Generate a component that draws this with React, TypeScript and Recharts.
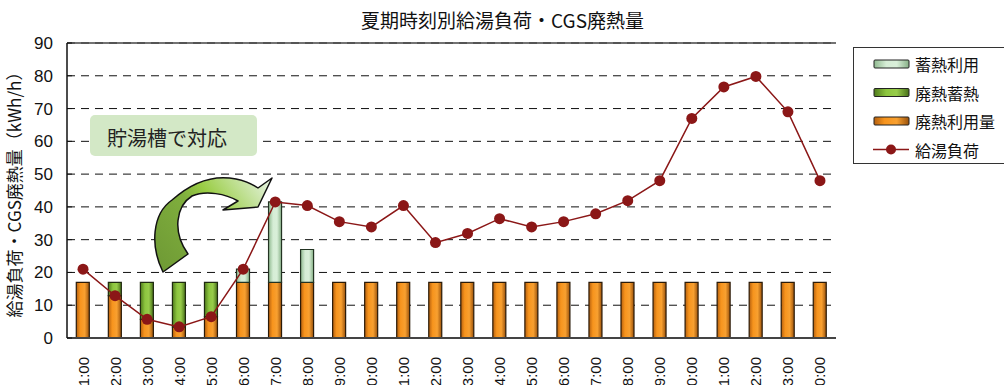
import {
  ComposedChart, Bar, Line, XAxis, YAxis, CartesianGrid, ReferenceLine, Legend,
} from "recharts";

const HOURS = [
  "1:00", "2:00", "3:00", "4:00", "5:00", "6:00", "7:00", "8:00", "9:00", "10:00", "11:00", "12:00",
  "13:00", "14:00", "15:00", "16:00", "17:00", "18:00", "19:00", "20:00", "21:00", "22:00", "23:00", "0:00",
];
// 給湯負荷 (kWh/h)
const HOT_WATER_LOAD = [
  21, 12.9, 5.7, 3.4, 6.5, 21, 41.5, 40.4, 35.5, 33.9, 40.4, 29.1,
  31.9, 36.4, 33.9, 35.5, 37.9, 41.9, 48, 67, 76.6, 79.8, 69, 48,
];
// 廃熱利用量
const WASTE_HEAT_USE = [
  17, 12.9, 5.7, 3.4, 6.5, 17, 17, 17, 17, 17, 17, 17,
  17, 17, 17, 17, 17, 17, 17, 17, 17, 17, 17, 17,
];
// 廃熱蓄熱
const WASTE_HEAT_STORED = [
  0, 4.1, 11.3, 13.6, 10.5, 0, 0, 0, 0, 0, 0, 0,
  0, 0, 0, 0, 0, 0, 0, 0, 0, 0, 0, 0,
];
// 蓄熱利用
const STORED_HEAT_USE = [
  0, 0, 0, 0, 0, 4, 24.5, 10, 0, 0, 0, 0,
  0, 0, 0, 0, 0, 0, 0, 0, 0, 0, 0, 0,
];
const Y_TICKS = [0, 10, 20, 30, 40, 50, 60, 70, 80, 90];
const EDGE_TICKS = Array.from({ length: 23 }, (_, i) => i + 1);

const data = HOURS.map((h, i) => ({
  hour: h,
  load: HOT_WATER_LOAD[i],
  use: WASTE_HEAT_USE[i],
  stored: WASTE_HEAT_STORED[i],
  storedUse: STORED_HEAT_USE[i],
}));

const FONT = `"Liberation Sans", Arial, "Noto Sans CJK JP", sans-serif`;
const JP = `"Noto Sans CJK JP", "Liberation Sans", sans-serif`;
const LINE_COLOR = "#8b1717";

const LEGEND_ITEMS = [
  { label: "蓄熱利用", fill: "url(#gLight)" },
  { label: "廃熱蓄熱", fill: "url(#gGreen)" },
  { label: "廃熱利用量", fill: "url(#gOrange)" },
  { label: "給湯負荷", line: true },
];

// hour labels run bottom-to-top under each bar
function HourTick({ x, y, payload }: any) {
  const ty = y + 11;
  return (
    <text
      x={x}
      y={ty}
      transform={`rotate(-90 ${x} ${ty})`}
      textAnchor="end"
      dominantBaseline="central"
      fontSize={15}
      fontFamily={FONT}
      fill="#111"
    >
      {payload.value}
    </text>
  );
}

function LegendBox() {
  return (
    <div
      style={{
        position: "absolute", left: 853, top: 47, width: 160, height: 117,
        border: "1px solid #333", background: "#fff", boxSizing: "border-box",
      }}
    >
      <svg width={160} height={117}>
        <defs>
          <Gradients />
        </defs>
        {LEGEND_ITEMS.map((it, i) => {
          const cy = 16 + i * 28.5;
          return (
            <g key={it.label}>
              {it.line ? (
                <g>
                  <line x1={19} x2={55} y1={cy} y2={cy} stroke={LINE_COLOR} strokeWidth={1.5} />
                  <circle cx={37} cy={cy} r={5} fill={LINE_COLOR} />
                </g>
              ) : (
                <rect x={20} y={cy - 4} width={35} height={8} rx={1} fill={it.fill} stroke="#222" strokeWidth={1} />
              )}
              <text x={61} y={cy} dominantBaseline="central" fontSize={16} fontFamily={JP} fill="#111">
                {it.label}
              </text>
            </g>
          );
        })}
      </svg>
    </div>
  );
}

function Gradients() {
  return (
    <>
      <linearGradient id="gOrange" x1="0" y1="0" x2="1" y2="0">
        <stop offset="0%" stopColor="#b5600f" />
        <stop offset="30%" stopColor="#f7941d" />
        <stop offset="65%" stopColor="#f8a030" />
        <stop offset="100%" stopColor="#9a520c" />
      </linearGradient>
      <linearGradient id="gGreen" x1="0" y1="0" x2="1" y2="0">
        <stop offset="0%" stopColor="#4f7a1c" />
        <stop offset="35%" stopColor="#8dc63f" />
        <stop offset="65%" stopColor="#97cc4a" />
        <stop offset="100%" stopColor="#476f18" />
      </linearGradient>
      <linearGradient id="gLight" x1="0" y1="0" x2="1" y2="0">
        <stop offset="0%" stopColor="#8fb98f" />
        <stop offset="35%" stopColor="#d6edd6" />
        <stop offset="65%" stopColor="#d9efd9" />
        <stop offset="100%" stopColor="#86b086" />
      </linearGradient>
    </>
  );
}

// note box and curved arrow pointing at the morning peak
function Callout() {
  return (
    <svg
      width={1004}
      height={385}
      style={{ position: "absolute", left: 0, top: 0, pointerEvents: "none" }}
    >
      <defs>
        <linearGradient id="gArrow" x1="160" y1="270" x2="272" y2="185" gradientUnits="userSpaceOnUse">
          <stop offset="0%" stopColor="#6f9a35" />
          <stop offset="45%" stopColor="#7fae3d" />
          <stop offset="60%" stopColor="#9acd45" />
          <stop offset="100%" stopColor="#e4f2de" />
        </linearGradient>
      </defs>
      <rect x={90} y={115} width={167} height={41} rx={5} fill="#d3e8c6" />
      <text x={107} y={137} dominantBaseline="central" fontSize={20} fontFamily={JP} fill="#222">
        貯湯槽で対応
      </text>
      <path
        d="M163,272 C150,246 152,214 172,200 C190,184 212,174 236,179 C246,181 252,184 258,188 L272,178 L258,207 L223,210 L238,201 C226,194 206,190 192,196 C176,206 172,232 188,254 Z"
        fill="url(#gArrow)"
        stroke="#111"
        strokeWidth={1.5}
        strokeLinejoin="round"
      />
    </svg>
  );
}

export default function App() {
  return (
    <div style={{ position: "absolute", left: 0, top: 0, width: 1004, height: 385, background: "#fff", overflow: "hidden" }}>
      <div
        style={{
          position: "absolute", left: 350, top: 6, width: 305, textAlign: "center",
          fontSize: 19, fontFamily: JP, color: "#111", whiteSpace: "nowrap",
        }}
      >
        夏期時刻別給湯負荷・CGS廃熱量
      </div>
      <ComposedChart
        width={1004}
        height={385}
        data={data}
        barCategoryGap="29%"
        margin={{ top: 43, right: 168, left: 0, bottom: 0 }}
      >
        <defs>
          <Gradients />
        </defs>
        <CartesianGrid vertical={false} stroke="#111" strokeDasharray="8 6" />
        <XAxis
          xAxisId="edge"
          type="number"
          domain={[0, 24]}
          ticks={EDGE_TICKS}
          tick={false}
          tickSize={-5}
          height={0}
          axisLine={false}
          tickLine={{ stroke: "#555" }}
          allowDataOverflow
        />
        <XAxis
          dataKey="hour"
          height={47}
          interval={0}
          tickLine={false}
          axisLine={{ stroke: "#444", strokeWidth: 2 }}
          tick={<HourTick />}
        />
        <YAxis
          domain={[0, 90]}
          ticks={Y_TICKS}
          width={67}
          interval={0}
          tickSize={-5}
          tickMargin={19}
          axisLine={{ stroke: "#111", strokeWidth: 1.5 }}
          tickLine={{ stroke: "#111" }}
          tick={{ fontSize: 17, fill: "#111", fontFamily: FONT }}
          label={{
            value: "給湯負荷・CGS廃熱量（kWh/h）",
            angle: -90,
            position: "insideLeft",
            dx: 10,
            dy: 0,
            style: { fontSize: 17, fill: "#111", fontFamily: JP, textAnchor: "middle" },
          }}
        />
        <YAxis
          yAxisId="frame"
          orientation="right"
          width={0}
          tick={false}
          tickLine={false}
          axisLine={{ stroke: "#777", strokeWidth: 1.5 }}
        />
        <ReferenceLine y={90} stroke="#444" strokeWidth={1.5} />
        <Bar dataKey="use" stackId="s" fill="url(#gOrange)" stroke="#2a1a08" strokeWidth={1.2} isAnimationActive={false} />
        <Bar dataKey="stored" stackId="s" fill="url(#gGreen)" stroke="#1f2a10" strokeWidth={1.2} isAnimationActive={false} />
        <Bar dataKey="storedUse" stackId="s" fill="url(#gLight)" stroke="#223322" strokeWidth={1.2} isAnimationActive={false} />
        <Line
          dataKey="load"
          stroke={LINE_COLOR}
          strokeWidth={1.5}
          dot={{ r: 5.5, fill: LINE_COLOR, stroke: LINE_COLOR, strokeWidth: 0 }}
          activeDot={false}
          isAnimationActive={false}
        />
        <Legend content={() => null} />
      </ComposedChart>
      <Callout />
      <LegendBox />
    </div>
  );
}
